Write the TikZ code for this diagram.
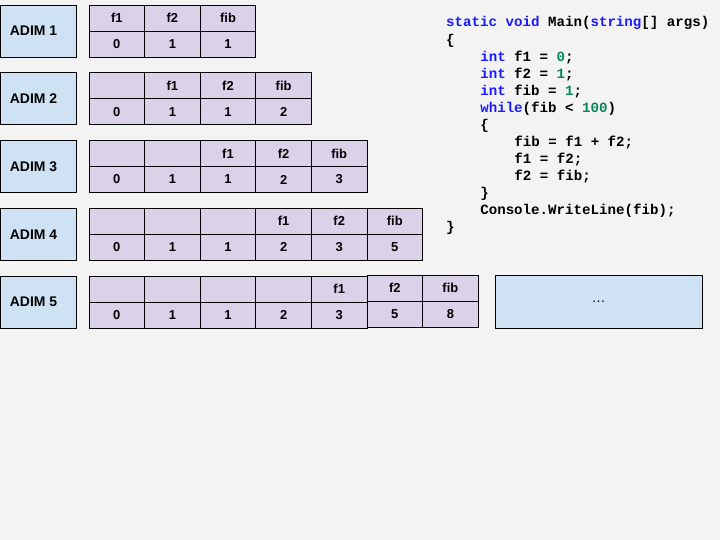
\documentclass[tikz,border=0pt]{standalone}
\usepackage{fontspec}
\setmainfont{Liberation Sans}
\newfontfamily\codefont{Liberation Mono}
\usetikzlibrary{positioning}
\definecolor{bg}{HTML}{F3F3F3}
\definecolor{adimblue}{HTML}{CFE2F3}
\definecolor{celllila}{HTML}{D9D2E9}
\definecolor{kwblue}{HTML}{1A1AFF}
\definecolor{numgreen}{HTML}{098658}
\newcommand\kwd[1]{\textcolor{kwblue}{#1}}
\newcommand\cnum[1]{\textcolor{numgreen}{#1}}
\newcount\mycount

\begin{document}
\begin{tikzpicture}[x=1bp,y=-1bp,
	adim/.style={draw=black,line width=0.8bp,fill=adimblue,minimum width=76bp,minimum height=52bp,inner sep=0pt,font=\bfseries\fontsize{14}{16}\selectfont},
	cell/.style={draw=black,line width=0.8bp,fill=celllila,minimum width=55.6bp,minimum height=26bp,inner sep=0pt,outer sep=0pt,font=\bfseries\fontsize{13}{15}\selectfont},
	code/.style={anchor=base west,inner sep=0pt,font=\codefont\bfseries\fontsize{14.2}{17}\selectfont}]
\fill[bg] (0,0) rectangle (720,540);
\useasboundingbox (0,0) rectangle (720,540);
\def\n{5}
\def\w{55.6}
\def\gap{67.75}
\foreach \k in {1,...,\n}
{
	\node[adim] (adim\k) at (38,{31+(\k-1)*\gap}) {ADIM \k\hspace*{9bp}};
	\mycount=\k
	\advance\mycount by 2
	\foreach \j in {1,...,\the\mycount}
	{
		\pgfmathsetmacro{\cx}{89+(\j-0.5)*\w}
		\pgfmathsetmacro{\cy}{18+(\k-1)*\gap-(\k==5)*(\j>5)}
		\pgfmathtruncatemacro{\d}{\j-\k}
		\pgfmathtruncatemacro{\val}{{0,1,1,2,3,5,8}[\j-1]}
		\node[cell] (h\k\j) at (\cx,\cy) {\ifcase\d f1\or f2\or fib\fi};
		\node[cell,below=0pt of h\k\j] (v\k\j) {\val};
	}
}
\node[adim,minimum width=207bp,minimum height=53bp,font=\fontsize{14}{16}\selectfont] (more) at (598.5,301.5) {\textellipsis};

\foreach \ind/\txt [count=\i] in {
	0/{\kwd{static} \kwd{void} Main(\kwd{string}[] args)},
	0/{\{},
	4/{\kwd{int} f1 = \cnum{0};},
	4/{\kwd{int} f2 = \cnum{1};},
	4/{\kwd{int} fib = \cnum{1};},
	4/{\kwd{while}(fib < \cnum{100})},
	4/{\{},
	8/{fib = f1 + f2;},
	8/{f1 = f2;},
	8/{f2 = fib;},
	4/{\}},
	4/{Console.WriteLine(fib);},
	0/{\}}}
	\node[code] (code\i) at ({446+8.52*\ind},{27+17.03*(\i-1)}) {\txt};
\end{tikzpicture}
\end{document}
